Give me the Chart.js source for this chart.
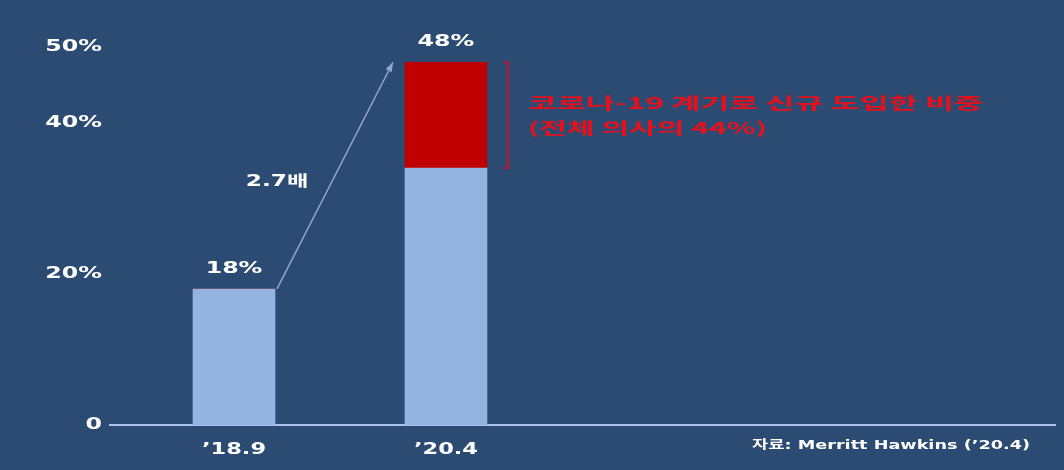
<!DOCTYPE html>
<html>
<head>
<meta charset="utf-8">
<script src="https://cdn.jsdelivr.net/npm/chart.js@4.4.1/dist/chart.umd.min.js"></script>
<style>
  html, body { margin: 0; padding: 0; background: #2c4b72; }
  #wrap { width: 1064px; height: 470px; }
</style>
</head>
<body>
<div id="wrap"><canvas id="telemed_chart"></canvas></div>
<script>
const periods = ['\u201918.9', '\u201920.4'];
const baseShare = [18, 34];     // light blue part
const newShare = [0, 14];       // red part (new since COVID-19)
const totalLabels = ['18%', '48%'];
const yTicks = [0, 20, 40, 50];
const yTickLabels = ['0', '20%', '40%', '50%'];
const growthLabel = '2.7배';
const noteLines = ['코로나-19 계기로 신규 도입한 비중', '(전체 의사의 44%)'];
const sourceText = '자료: Merritt Hawkins (\u201920.4)';

const LABEL_FONT = 'bold 15px "DejaVu Sans", "Noto Sans CJK KR", sans-serif';

// draws text squeezed/stretched horizontally
function drawText(ctx, text, x, y, font, color, align, sx) {
    ctx.save();
    ctx.font = font;
    ctx.fillStyle = color;
    ctx.textBaseline = 'middle';
    ctx.textAlign = 'left';
    const w = ctx.measureText(text).width * sx;
    let left = x;
    if (align === 'center') left = x - w / 2;
    if (align === 'right') left = x - w;
    ctx.translate(left, y);
    ctx.scale(sx, 1);
    ctx.fillText(text, 0, 0);
    ctx.restore();
}

// same, but stretched to a given width
function fitText(ctx, text, x, y, font, color, align, width) {
    ctx.save();
    ctx.font = font;
    const w = ctx.measureText(text).width;
    ctx.restore();
    drawText(ctx, text, x, y, font, color, align, width / w);
}

const decorations = {
    id: 'decorations',
    beforeDraw(chart) {
        const ctx = chart.ctx;
        ctx.save();
        ctx.fillStyle = '#2c4b72';
        ctx.fillRect(0, 0, chart.width, chart.height);
        ctx.restore();
    },
    afterDraw(chart) {
        const ctx = chart.ctx;
        const xs = chart.scales.x;
        const ys = chart.scales.y;
        const half = 41;

        // y tick labels
        yTicks.forEach((v, i) => {
            drawText(ctx, yTickLabels[i], 102, ys.getPixelForValue(v), LABEL_FONT, '#ffffff', 'right', 1.58);
        });

        // x labels + totals
        periods.forEach((p, i) => {
            const cx = xs.getPixelForValue(i + 1);
            drawText(ctx, p, cx, 450, LABEL_FONT, '#ffffff', 'center', 1.5);
            const top = ys.getPixelForValue(baseShare[i] + newShare[i]);
            drawText(ctx, totalLabels[i], cx, top - 20, LABEL_FONT, '#ffffff', 'center', 1.58);
        });

        // growth arrow
        const x1 = xs.getPixelForValue(1) + half + 2;
        const y1 = ys.getPixelForValue(baseShare[0] + newShare[0]);
        const x2 = xs.getPixelForValue(2) - half - 12;
        const y2 = ys.getPixelForValue(baseShare[1] + newShare[1]);
        const ang = Math.atan2(y2 - y1, x2 - x1);
        ctx.save();
        ctx.strokeStyle = '#8fa8cc';
        ctx.fillStyle = '#8fa8cc';
        ctx.lineWidth = 1.5;
        ctx.beginPath();
        ctx.moveTo(x1, y1);
        ctx.lineTo(x2, y2);
        ctx.stroke();
        ctx.beginPath();
        ctx.moveTo(x2, y2);
        ctx.lineTo(x2 - 10 * Math.cos(ang - 0.35), y2 - 10 * Math.sin(ang - 0.35));
        ctx.lineTo(x2 - 10 * Math.cos(ang + 0.35), y2 - 10 * Math.sin(ang + 0.35));
        ctx.closePath();
        ctx.fill();
        ctx.restore();
        drawText(ctx, growthLabel, 277, 182, LABEL_FONT, '#ffffff', 'center', 1.55);

        // red bracket next to the red segment
        const bx = xs.getPixelForValue(2) + half + 21;
        const bTop = ys.getPixelForValue(baseShare[1] + newShare[1]);
        const bBot = ys.getPixelForValue(baseShare[1]);
        ctx.save();
        ctx.strokeStyle = '#c8102e';
        ctx.lineWidth = 2;
        ctx.beginPath();
        ctx.moveTo(bx - 4, bTop);
        ctx.lineTo(bx, bTop);
        ctx.lineTo(bx, bBot);
        ctx.lineTo(bx - 4, bBot);
        ctx.stroke();
        ctx.restore();

        const noteFont = 'bold 16px "Noto Sans CJK KR", sans-serif';
        fitText(ctx, noteLines[0], 528, 103, noteFont, '#e8101a', 'left', 455);
        fitText(ctx, noteLines[1], 528, 128, noteFont, '#e8101a', 'left', 239);

        // source
        fitText(ctx, sourceText, 1030, 446, 'bold 12px "DejaVu Sans", "Noto Sans CJK KR", sans-serif', '#ffffff', 'right', 278);
    }
};

const ctx = document.getElementById('telemed_chart').getContext('2d');

new Chart(ctx, {
    type: 'bar',
    data: {
        datasets: [{
            label: 'base',
            data: baseShare.map((v, i) => ({ x: i + 1, y: v })),
            backgroundColor: '#95b3e0',
            barThickness: 82
        }, {
            label: 'new',
            data: newShare.map((v, i) => ({ x: i + 1, y: v })),
            backgroundColor: '#c00000',
            barThickness: 82
        }]
    },
    options: {
        responsive: true,
        maintainAspectRatio: false,
        animation: false,
        layout: {
            padding: { left: 110, right: 9, top: 32, bottom: 0 }
        },
        plugins: {
            legend: { display: false },
            tooltip: { enabled: false }
        },
        scales: {
            x: {
                type: 'linear',
                offset: false,
                stacked: true,
                min: 0.415,
                max: 4.873,
                grid: { display: false },
                border: { display: true, color: '#a9c4ec', width: 2 },
                ticks: { display: false },
                afterFit: s => { s.height = 45; }
            },
            y: {
                display: false,
                stacked: true,
                min: 0,
                max: 52,
                afterBuildTicks: s => { s.ticks = yTicks.map(v => ({ value: v })); }
            }
        }
    },
    plugins: [decorations]
});
</script>
</body>
</html>
